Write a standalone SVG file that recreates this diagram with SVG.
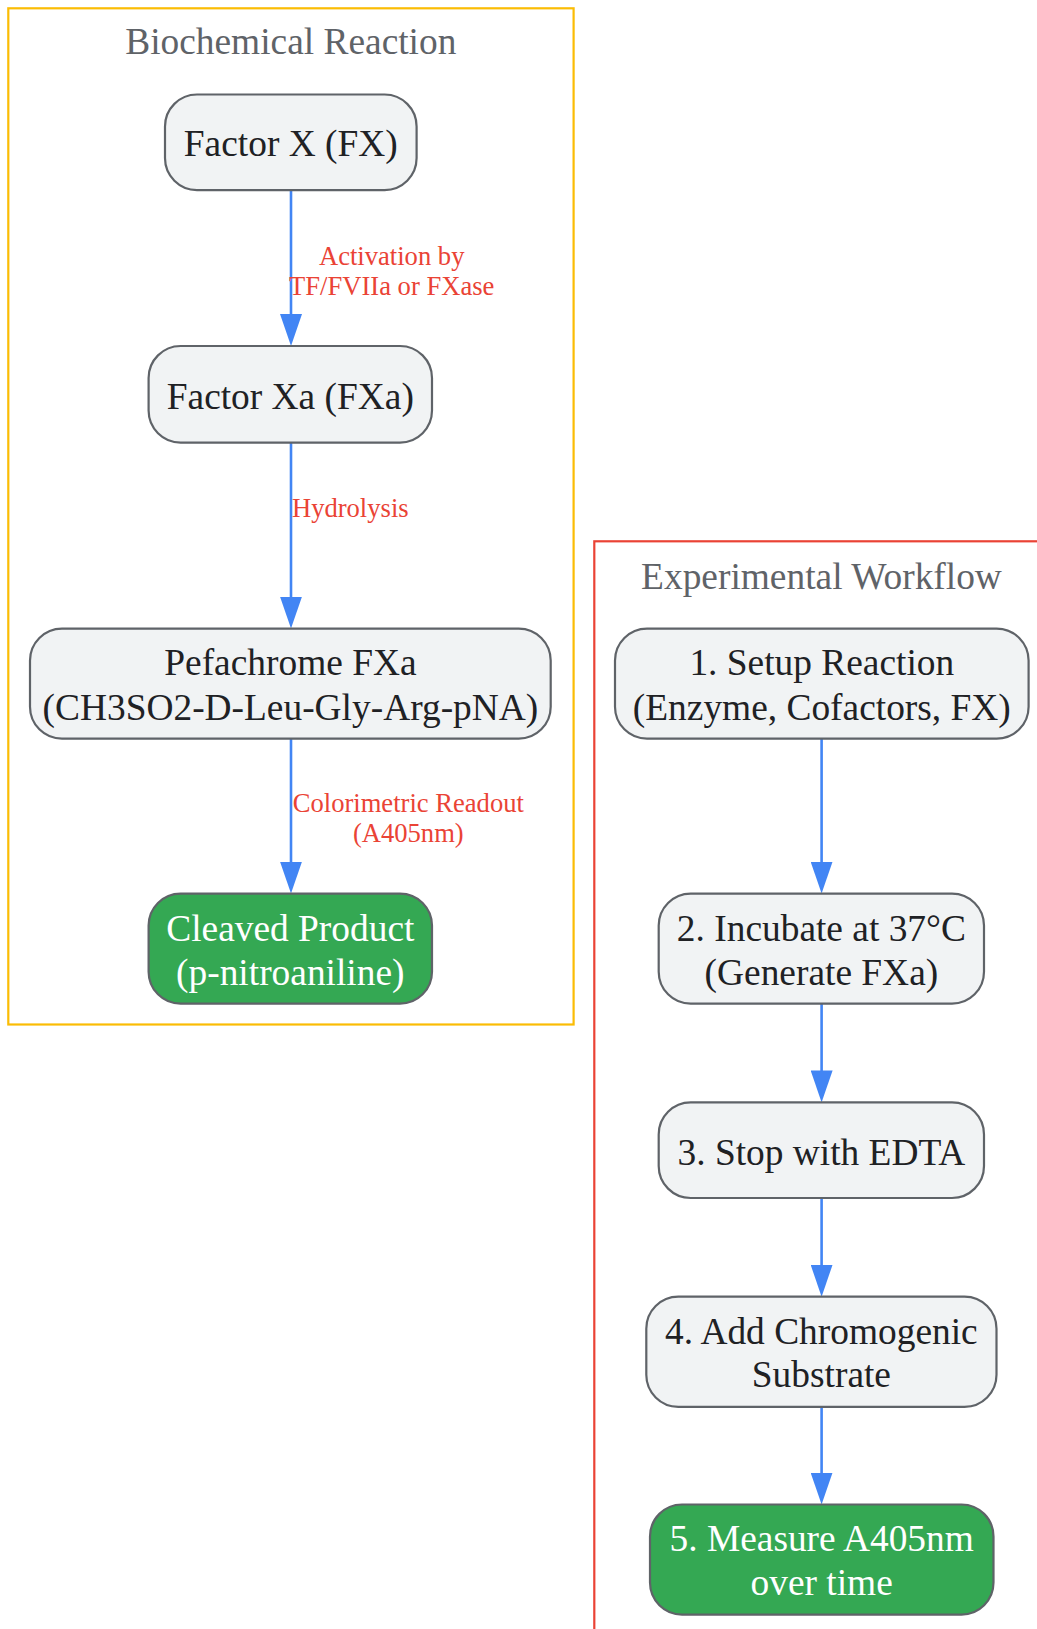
<svg xmlns="http://www.w3.org/2000/svg" width="1037" height="1629" viewBox="0 0 1037 1629">
<defs>
<style>
.cl{fill:none;stroke-width:2.2}
.ct{font-family:"Liberation Serif","Times New Roman",serif;font-size:37.4px;fill:#5f6368;text-anchor:middle}
.n rect{fill:#f1f3f4;stroke:#5f6368;stroke-width:2.2}
.n text{font-family:"Liberation Serif","Times New Roman",serif;font-size:37.4px;fill:#202124;text-anchor:middle}
.g rect{fill:#34a853}
.g text{fill:#ffffff}
.e line{stroke:#4285f4;stroke-width:2.6;fill:none}
.el{font-family:"Liberation Serif","Times New Roman",serif;font-size:26.6px;fill:#ea4335;text-anchor:middle}
</style>
<marker id="ah" markerUnits="userSpaceOnUse" viewBox="0 0 32 22" refX="2" refY="11" markerWidth="32" markerHeight="22" orient="auto">
<path d="M0,0 L32,11 L0,22 z" fill="#4285f4"/>
</marker>
</defs>
<rect width="1037" height="1629" fill="#ffffff"/>

<g id="cluster-biochem">
<rect class="cl" x="8.3" y="8.3" width="565.3" height="1016.2" stroke="#fbbc04"/>
<text class="ct" x="290.8" y="54">Biochemical Reaction</text>
</g>
<g id="cluster-workflow">
<rect class="cl" x="594.3" y="541.3" width="520" height="1200" stroke="#ea4335"/>
<text class="ct" x="821.5" y="589">Experimental Workflow</text>
</g>

<g id="connectors" class="e">
<line x1="291" y1="190.1" x2="291" y2="316" marker-end="url(#ah)"/>
<line x1="291" y1="442.6" x2="291" y2="598.6" marker-end="url(#ah)"/>
<line x1="291" y1="738.7" x2="291" y2="863.6" marker-end="url(#ah)"/>
<line x1="821.6" y1="738.7" x2="821.6" y2="863.6" marker-end="url(#ah)"/>
<line x1="821.6" y1="1003.7" x2="821.6" y2="1072.4" marker-end="url(#ah)"/>
<line x1="821.6" y1="1198" x2="821.6" y2="1266.7" marker-end="url(#ah)"/>
<line x1="821.6" y1="1406.8" x2="821.6" y2="1474.5" marker-end="url(#ah)"/>
<text class="el" x="391.7" y="264.5">Activation by</text>
<text class="el" x="391.7" y="294.5">TF/FVIIa or FXase</text>
<text class="el" x="350.3" y="517">Hydrolysis</text>
<text class="el" x="408.3" y="812">Colorimetric Readout</text>
<text class="el" x="408.3" y="842">(A405nm)</text>
</g>

<g id="FX" class="n">
<rect x="165" y="94.5" width="251.6" height="95.6" rx="32" ry="32"/>
<text x="290.8" y="156">Factor X (FX)</text>
</g>
<g id="FXa" class="n">
<rect x="148.6" y="346" width="283.4" height="96.6" rx="32" ry="32"/>
<text x="290.3" y="408.5">Factor Xa (FXa)</text>
</g>
<g id="Pefachrome" class="n">
<rect x="30" y="628.6" width="520.7" height="110.1" rx="32" ry="32"/>
<text x="290.4" y="675.4">Pefachrome FXa</text>
<text x="290.4" y="720">(CH3SO2-D-Leu-Gly-Arg-pNA)</text>
</g>
<g id="Product" class="n g">
<rect x="148.6" y="893.6" width="283.4" height="110.1" rx="32" ry="32"/>
<text x="290.3" y="940.5">Cleaved Product</text>
<text x="290.3" y="985">(p-nitroaniline)</text>
</g>

<g id="Step1" class="n">
<rect x="615" y="628.6" width="413.6" height="110.1" rx="32" ry="32"/>
<text x="821.8" y="675.4">1. Setup Reaction</text>
<text x="821.8" y="720">(Enzyme, Cofactors, FX)</text>
</g>
<g id="Step2" class="n">
<rect x="658.7" y="893.6" width="325.3" height="110.1" rx="32" ry="32"/>
<text x="821.4" y="940.5">2. Incubate at 37°C</text>
<text x="821.4" y="985">(Generate FXa)</text>
</g>
<g id="Step3" class="n">
<rect x="658.7" y="1102.4" width="325.3" height="95.6" rx="32" ry="32"/>
<text x="821.4" y="1164.8">3. Stop with EDTA</text>
</g>
<g id="Step4" class="n">
<rect x="646.3" y="1296.7" width="350.2" height="110.1" rx="32" ry="32"/>
<text x="821.4" y="1343.5">4. Add Chromogenic</text>
<text x="821.4" y="1387">Substrate</text>
</g>
<g id="Step5" class="n g">
<rect x="650" y="1504.5" width="343.5" height="110.1" rx="32" ry="32"/>
<text x="821.7" y="1551.3">5. Measure A405nm</text>
<text x="821.7" y="1595">over time</text>
</g>
</svg>
